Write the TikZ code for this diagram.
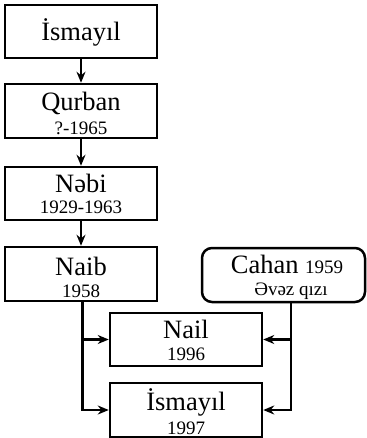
\documentclass[tikz,border=0pt]{standalone}
\usepackage{fontspec}
\setmainfont{Liberation Serif}
\usetikzlibrary{arrows.meta}
\begin{document}
\begin{tikzpicture}[x=1pt,y=-1pt,
  box/.style={draw,line width=2.5pt,minimum width=152pt,minimum height=53pt,inner sep=0pt,fill=white},
  rbox/.style={box,rounded corners=10pt,minimum width=163pt},
  nm/.style={anchor=base,inner sep=0pt,font=\fontsize{26.5}{26.5}\selectfont},
  yr/.style={anchor=base,inner sep=0pt,font=\fontsize{19}{19}\selectfont},
  arr/.style={line width=2.3pt,-{Stealth[length=11pt,width=9pt]}}]
\useasboundingbox (0,0) rectangle (366,438);
\node[box] (b1) at (81,31.5) {};
\node[box,minimum height=54pt] (b2) at (81,111) {};
\node[box] (b3) at (81,193.5) {};
\node[box,minimum height=54pt] (b4) at (81,274) {};
\node[rbox,minimum height=54pt] (cahan) at (283.5,275) {};
\node[box] (nail) at (186,339.5) {};
\node[box,minimum height=54pt] (b6) at (186,410) {};
% texts
\node[nm] (t1) at (81,41) {İsmayıl};
\node[nm] (t2) at (81,110.5) {Qurban};
\node[yr] (y2) at (81,134.5) {?-1965};
\node[nm] (t3) at (81,192.5) {Nəbi};
\node[yr] (y3) at (81,213.5) {1929-1963};
\node[nm] (t4) at (81,275) {Naib};
\node[yr] (y4) at (81,297) {1958};
\node[anchor=base,inner sep=0pt] (tc) at (287,273.5) {\fontsize{26.5}{26.5}\selectfont Cahan \fontsize{19}{19}\selectfont 1959};
\node[yr] (yc) at (291,295) {Əvəz qızı};
\node[nm] (t5) at (186,338.5) {Nail};
\node[yr] (y5) at (186,360) {1996};
\node[nm] (t6) at (186,410) {İsmayıl};
\node[yr] (y6) at (186,434.5) {1997};
% connectors
\draw[arr] (b1.south) -- (b2.north);
\draw[arr] (b2.south) -- (b3.north);
\draw[arr] (b3.south) -- (b4.north);
\coordinate (nl) at ([xshift=1.5pt]b4.south);
\coordinate (cr) at ([xshift=7.5pt]cahan.south);
\draw[arr] (nl) |- (b6.west);
\draw[arr] (nl |- nail.west) -- (nail.west);
\draw[arr] (cr) |- (b6.east);
\draw[arr] (cr |- nail.east) -- (nail.east);
\end{tikzpicture}
\end{document}
